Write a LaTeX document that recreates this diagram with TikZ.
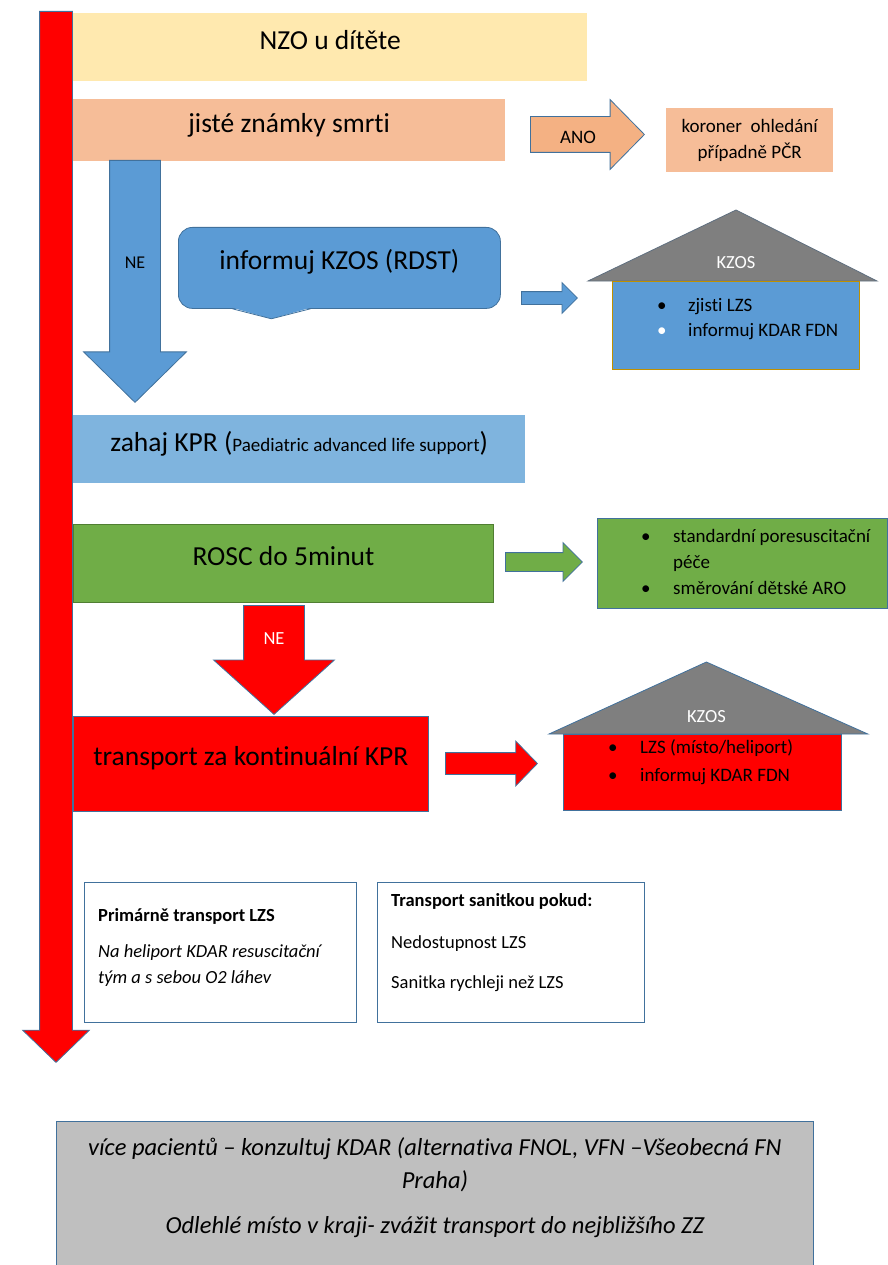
\documentclass[tikz,border=0pt]{standalone}
\usepackage{fontspec}
\setmainfont{Carlito}[Ligatures=NoCommon]
\usetikzlibrary{positioning, shapes.arrows, backgrounds}
\definecolor{kzYellow}{HTML}{FFE9AF}
\definecolor{kzPeach}{HTML}{F6BD98}
\definecolor{kzPeachDark}{HTML}{F4B183}
\definecolor{kzBlue}{HTML}{5B9BD5}
\definecolor{kzLightBlue}{HTML}{7FB4DE}
\definecolor{kzGreen}{HTML}{70AD47}
\definecolor{kzGreenDark}{HTML}{507E32}
\definecolor{kzRed}{HTML}{FF0000}
\definecolor{kzEdge}{HTML}{41719C}
\definecolor{kzGold}{HTML}{BF9000}
\definecolor{kzRoof}{HTML}{7F7F7F}
\definecolor{kzRoofEdge}{HTML}{5F6F7F}
\definecolor{kzGray}{HTML}{BFBFBF}

\begin{document}
\begin{tikzpicture}[
  x=1pt, y=-1pt,
  bigbox/.style={
    rectangle, anchor=north west, inner sep=0pt,
    text height=20pt, text depth=16pt,
    font=\fontsize{27.5}{33}\selectfont,
  },
  flatbox/.style={rectangle, anchor=north west, inner sep=0pt},
  smalltext/.style={inner sep=0pt, font=\fontsize{19}{26}\selectfont},
  bulletlist/.style={anchor=north west, inner sep=0pt},
  blockarrow/.style={
    single arrow, draw=kzEdge, line width=0.8pt, inner sep=0pt,
    text depth=0pt, anchor=tail, single arrow tip angle=#1,
  },
  roof/.style={fill=kzRoof, draw=kzRoofEdge, line width=0.8pt},
  edged/.style={draw=kzEdge, line width=0.8pt},
]
\useasboundingbox (0,0) rectangle (887,1265);

% main timeline arrow
\node[blockarrow=92, fill=kzRed, text height=32pt, single arrow head extend=17pt,
  minimum height=1051pt, rotate=-90] (timeline) at (56,11) {};

% start
\node[bigbox, fill=kzYellow, minimum width=514, minimum height=68] (nzo) at (73,13) {NZO u dítěte};
\node[bigbox, fill=kzPeach, minimum width=432, minimum height=62] (smrt) at (73,99) {jisté známky smrti};

% ANO branch
\node[blockarrow=91, fill=kzPeachDark, text height=35pt, single arrow head extend=17pt,
  minimum height=114pt] (ano) at (530,134.5) {};
\node[smalltext] (anotext) at (578,137) {ANO};
\node[flatbox, fill=kzPeach, minimum width=167, minimum height=64, align=center,
  font=\fontsize{19}{26}\selectfont] (koroner) at (666,108) {koroner\ \ ohledání\\případně PČR};

% NE branch
\node[blockarrow=91, fill=kzBlue, text height=50pt, single arrow head extend=26pt,
  minimum height=242pt, rotate=-90] (ne1) at (135,160) {};
\node[smalltext, font=\fontsize{18}{22}\selectfont] (ne1text) at (135,263) {NE};

\node[bigbox, fill=kzBlue, edged, rounded corners=14pt, minimum width=322, minimum height=81] (rdst) at (178,227) {informuj KZOS (RDST)};
\fill[kzBlue] ([xshift=-107pt, yshift=1pt]rdst.south) -- ([xshift=-68pt, yshift=-10pt]rdst.south)
  -- ([xshift=-29pt, yshift=1pt]rdst.south) -- cycle;
\draw[edged] ([xshift=-107pt]rdst.south) -- ([xshift=-68pt, yshift=-10pt]rdst.south) -- ([xshift=-29pt]rdst.south);

\node[blockarrow=90, fill=kzBlue, text height=12pt, single arrow head extend=9pt,
  minimum height=56pt] (tokzos1) at (521,298) {};

% KZOS house 1
\node[flatbox, fill=kzBlue, draw=kzGold, line width=1pt, minimum width=247, minimum height=88] (kzos1) at (612,281) {};
\begin{scope}[on background layer]
  \filldraw[roof] ([xshift=-24pt]kzos1.north west) -- ([yshift=71pt]kzos1.north) -- ([xshift=17pt]kzos1.north east) -- cycle;
\end{scope}
\node[smalltext, font=\fontsize{18.5}{22}\selectfont, text=white] (kzos1roof) at ([yshift=18pt]kzos1.north) {KZOS};
\node[bulletlist, font=\fontsize{19}{25}\selectfont] (kzos1list) at ([xshift=45pt, yshift=-13pt]kzos1.north west)
  {\begin{tabular}{@{}l@{}l@{}}
   \makebox[31pt][l]{•} & zjisti LZS\\
   \makebox[31pt][l]{\textcolor{white}{•}} & informuj KDAR FDN
   \end{tabular}};

% resuscitation
\node[bigbox, fill=kzLightBlue, minimum width=452, minimum height=68] (kpr) at (73,415)
  {zahaj KPR ({\fontsize{19}{22}\selectfont Paediatric advanced life support})};

\node[bigbox, fill=kzGreen, draw=kzGreenDark, line width=1pt, minimum width=420, minimum height=78] (rosc) at (73,524) {ROSC do 5minut};
\node[blockarrow=90, fill=kzGreen, text height=18pt, single arrow head extend=10pt,
  minimum height=77pt] (topece) at (505,562) {};
\node[flatbox, fill=kzGreen, edged, minimum width=290, minimum height=90] (pece) at (597,518) {};
\node[bulletlist, font=\fontsize{19}{26}\selectfont] (pecelist) at ([xshift=44pt, yshift=-6pt]pece.north west)
  {\begin{tabular}{@{}l@{}l@{}}
   \makebox[32pt][l]{•} & standardní poresuscitační\\
   & péče\\
   \makebox[32pt][l]{•} & směrování dětské ARO
   \end{tabular}};

% no ROSC
\node[blockarrow=96, fill=kzRed, text height=60pt, single arrow head extend=30pt,
  minimum height=109pt, rotate=-90] (ne2) at (274,605) {};
\node[smalltext, font=\fontsize{18.5}{22}\selectfont, text=white] (ne2text) at (274,639) {NE};

\node[bigbox, fill=kzRed, edged, minimum width=355, minimum height=95] (transport) at (73,716) {transport za kontinuální KPR};
\node[blockarrow=92, fill=kzRed, text height=21pt, single arrow head extend=11.5pt,
  minimum height=92pt] (tokzos2) at (445,763.5) {};

% KZOS house 2
\node[flatbox, fill=kzRed, edged, minimum width=278, minimum height=76] (kzos2) at (563,734) {};
\begin{scope}[on background layer]
  \filldraw[roof, draw=kzEdge] ([xshift=-14pt]kzos2.north west) -- ([xshift=4pt, yshift=72pt]kzos2.north) -- ([xshift=26pt]kzos2.north east) -- cycle;
\end{scope}
\node[smalltext, font=\fontsize{18.5}{22}\selectfont, text=white] (kzos2roof) at ([xshift=4pt, yshift=17pt]kzos2.north) {KZOS};
\node[bulletlist, font=\fontsize{19}{28}\selectfont] (kzos2list) at ([xshift=45pt, yshift=0pt]kzos2.north west)
  {\begin{tabular}{@{}l@{}l@{}}
   \makebox[32pt][l]{•} & LZS (místo/heliport)\\
   \makebox[32pt][l]{•} & informuj KDAR FDN
   \end{tabular}};

% transport notes
\node[flatbox, fill=white, edged, minimum width=272, minimum height=140] (lzs) at (84,882) {};
\node[bulletlist, font=\fontsize{18.5}{26}\selectfont] (lzstext) at ([xshift=14pt, yshift=-21pt]lzs.north west)
  {\begin{tabular}{@{}l@{}}
   \textbf{Primárně transport LZS}\\[10pt]
   \textit{Na heliport KDAR resuscitační}\\
   \textit{tým a s sebou O2 láhev}
   \end{tabular}};

\node[flatbox, fill=white, edged, minimum width=267, minimum height=140] (sanitka) at (377,882) {};
\node[bulletlist, font=\fontsize{18.5}{26}\selectfont] (sanitkatext) at ([xshift=14pt, yshift=-6pt]sanitka.north west)
  {\begin{tabular}{@{}l@{}}
   \textbf{Transport sanitkou pokud:}\\[16pt]
   Nedostupnost LZS\\[14pt]
   Sanitka rychleji než LZS
   \end{tabular}};

% bottom note
\node[flatbox, fill=kzGray, edged, minimum width=757, minimum height=150] (more) at (56,1121) {};
\node[inner sep=0pt, anchor=north, font=\fontsize{24.5}{33}\selectfont\itshape] (moretext) at ([yshift=-11pt]more.north)
  {\begin{tabular}{@{}c@{}}
   více pacientů – konzultuj KDAR (alternativa FNOL, VFN –Všeobecná FN\\
   Praha)\\[12pt]
   Odlehlé místo v kraji- zvážit transport do nejbližšího ZZ
   \end{tabular}};

\end{tikzpicture}
\end{document}
